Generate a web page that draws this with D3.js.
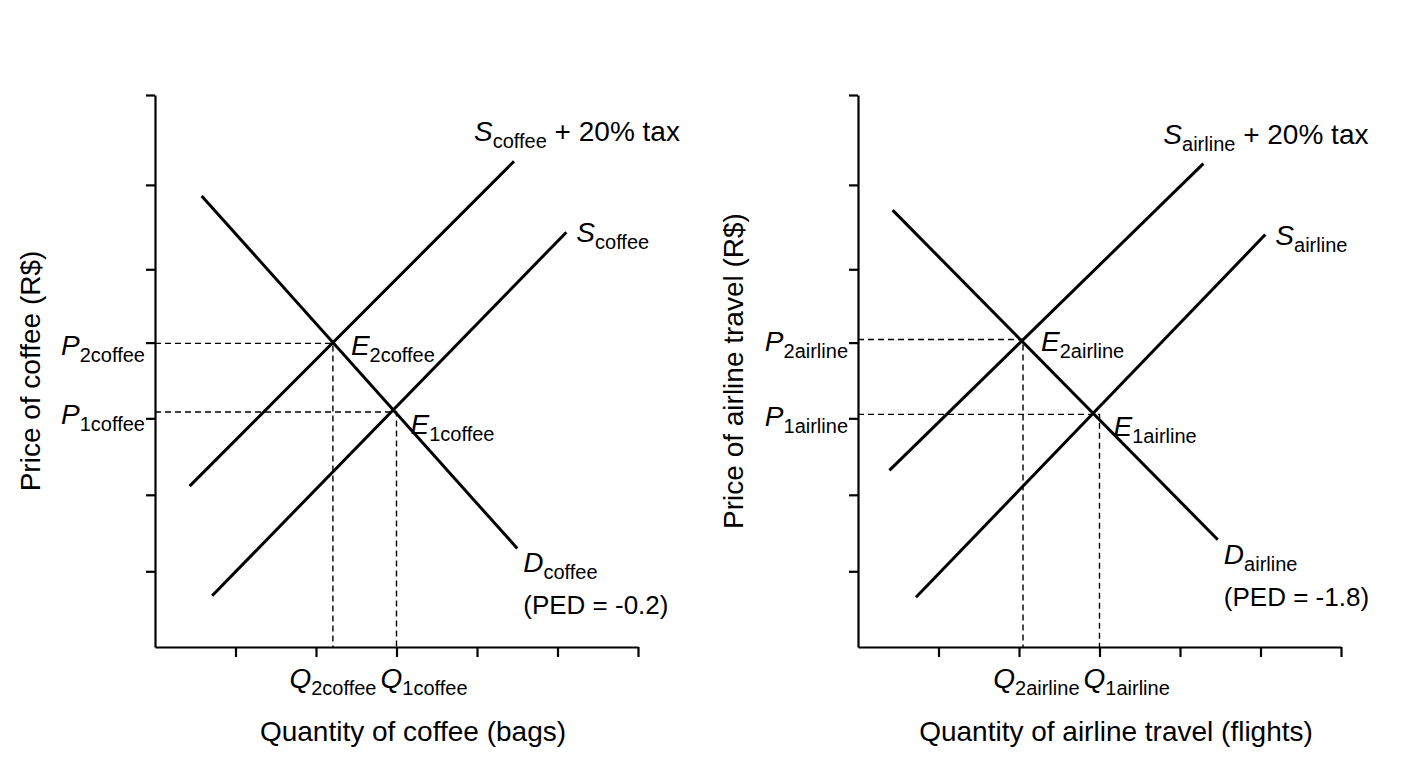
<!DOCTYPE html>
<html><head><meta charset="utf-8">
<script src="https://cdn.jsdelivr.net/npm/d3@7"></script>
<style>body{margin:0;background:#fff}text{font-family:"Liberation Sans",Arial,sans-serif;fill:#000}</style>
</head><body>
<svg width="1408" height="768"></svg>
<script>
// tick positions (unitless quantity / price)
const xTicks = [1, 2, 3, 4, 5, 6];
const yTicks = [0.96, 1.93, 2.9, 3.86, 4.79, 5.86, 7];

// coffee lines [x1, y1, x2, y2]
const coffeeD = [0.58, 5.72, 4.50, 1.25];
const coffeeS = [0.71, 0.65, 5.11, 5.26];
const coffeeTax = [0.43, 2.04, 4.46, 6.16];
const coffeeE1 = [3.0, 2.98];
const coffeeE2 = [2.21, 3.85];

// airline lines
const airlineD = [0.43, 5.54, 4.47, 1.36];
const airlineS = [0.72, 0.63, 5.06, 5.23];
const airlineTax = [0.39, 2.24, 4.29, 6.13];
const airlineE1 = [3.0, 2.95];
const airlineE2 = [2.05, 3.90];

const svg = d3.select("svg");

function drawPanel(o) {
  const x = d3.scaleLinear().domain([0, 6]).range([o.left, o.left + 483]);
  const y = d3.scaleLinear().domain([0, 7]).range([647, 95]);
  const g = svg.append("g");

  g.append("g").attr("transform", "translate(0,647)")
    .call(d3.axisBottom(x).tickValues(xTicks).tickSize(10).tickFormat("").tickSizeOuter(0));
  g.append("g").attr("transform", `translate(${o.left},0)`)
    .call(d3.axisLeft(y).tickValues(yTicks).tickSize(9).tickFormat("").tickSizeOuter(0));
  g.selectAll(".domain,.tick line").attr("stroke", "#000").attr("stroke-width", 2.2);

  // dashed guides
  [o.e1, o.e2].forEach(e => {
    g.append("path").attr("fill", "none").attr("stroke", "#000").attr("stroke-width", 1.4)
      .attr("stroke-dasharray", "6,4")
      .attr("d", `M${x(0)},${y(e[1])}H${x(e[0])}V${y(0)}`);
  });

  [o.d, o.s, o.tax].forEach(l => {
    g.append("line").attr("x1", x(l[0])).attr("y1", y(l[1]))
      .attr("x2", x(l[2])).attr("y2", y(l[3]))
      .attr("stroke", "#000").attr("stroke-width", 3);
  });

  function label(px, py, main, sub, rest, anchor) {
    const t = g.append("text").attr("x", px).attr("y", py).attr("font-size", 28)
      .attr("text-anchor", anchor || "start");
    t.append("tspan").attr("font-style", "italic").text(main);
    t.append("tspan").attr("font-size", 20).attr("dy", 7).text(sub);
    if (rest) t.append("tspan").attr("dy", -7).text(rest);
  }
  const n = o.name;
  label(x(o.tax[2]) - 40, y(o.tax[3]) - 20, "S", n, " + 20% tax");
  label(x(o.s[2]) + 10, y(o.s[3]) + 10, "S", n);
  label(x(o.d[2]) + 6, y(o.d[3]) + 24, "D", n);
  g.append("text").attr("x", x(o.d[2]) + 6).attr("y", y(o.d[3]) + 66)
    .attr("font-size", 26).text(o.ped);
  label(x(o.e1[0]) + 14, y(o.e1[1]) + 22, "E", "1" + n);
  label(x(o.e2[0]) + 18, y(o.e2[1]) + 12, "E", "2" + n);
  label(o.left - 10, y(o.e2[1]) + 12, "P", "2" + n, null, "end");
  label(o.left - 10, y(o.e1[1]) + 12, "P", "1" + n, null, "end");
  label(x(o.e1[0]) - 20, 688, "Q", "2" + n, null, "end");
  label(x(o.e1[0]) - 16, 688, "Q", "1" + n);

  g.append("text").attr("x", o.left + 258).attr("y", 741).attr("text-anchor", "middle")
    .attr("font-size", 28).text(o.xTitle);
  g.append("text").attr("transform", `translate(${o.left - 115},371) rotate(-90)`)
    .attr("text-anchor", "middle").attr("font-size", 28).text(o.yTitle);
}

drawPanel({left: 155, name: "coffee", d: coffeeD, s: coffeeS, tax: coffeeTax,
  e1: coffeeE1, e2: coffeeE2, ped: "(PED = -0.2)",
  xTitle: "Quantity of coffee (bags)", yTitle: "Price of coffee (R$)"});
drawPanel({left: 858, name: "airline", d: airlineD, s: airlineS, tax: airlineTax,
  e1: airlineE1, e2: airlineE2, ped: "(PED = -1.8)",
  xTitle: "Quantity of airline travel (flights)", yTitle: "Price of airline travel (R$)"});
</script>
</body></html>
